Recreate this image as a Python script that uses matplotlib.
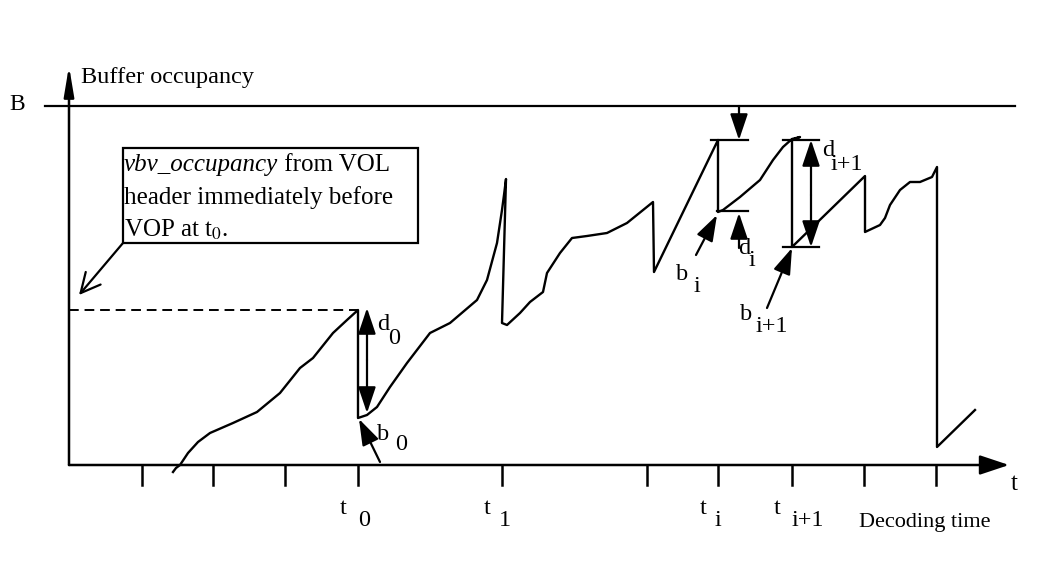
import numpy as np
import matplotlib.pyplot as plt
from matplotlib.patches import FancyArrowPatch, Rectangle

# Coordinates (x right, y down, in pixels)

# Buffer occupancy curve
curve_x = [173, 176, 180, 188, 198, 210, 233, 257, 280, 300, 313, 333, 347, 358,
           358, 367, 377, 390, 407, 430, 450, 477, 487, 497, 502, 504, 506,
           502, 507, 520, 530, 543, 547, 560, 572, 587, 607, 627, 653,
           654, 718, 718, 723, 740, 760, 773, 783, 792, 800, 792, 792,
           865, 865, 880, 885, 890, 900, 910, 920, 932, 937, 937, 975]
curve_y = [472, 468, 465, 453, 442, 433, 423, 412, 393, 368, 358, 333, 320, 310,
           418, 415, 407, 387, 363, 333, 323, 300, 280, 243, 210, 195, 179,
           323, 325, 313, 302, 292, 273, 253, 238, 236, 233, 223, 202,
           272, 140, 212, 210, 197, 180, 160, 147, 139, 137, 140, 247,
           176, 232, 225, 218, 205, 190, 182, 182, 177, 167, 447, 410]

# Decoding time ticks
tick_x = [142, 213, 285, 358, 502, 647, 718, 792, 864, 936]
tick_names = [("t", "0", 358, 21), ("t", "1", 502, 18), ("t", "i", 718, 15), ("t", "i+1", 792, 31)]

AXIS_X = 69
AXIS_Y = 465
B_LEVEL = 106
START_LEVEL = 310

plt.rcParams['font.family'] = ['Liberation Serif', 'DejaVu Serif']
plt.rcParams['mathtext.fontset'] = 'stix'

FS = 17.5

fig = plt.figure(figsize=(10.51, 5.66), dpi=100)
ax = fig.add_axes([0, 0, 1, 1])
ax.set_xlim(0, 1051)
ax.set_ylim(566, 0)
ax.axis('off')

def arrow(x0, y0, x1, y1, style="-|>,head_length=0.8,head_width=0.27", lw=1.6):
    ax.add_patch(FancyArrowPatch((x0, y0), (x1, y1), arrowstyle=style, mutation_scale=20,
                                 color='black', lw=lw, shrinkA=0, shrinkB=0))

def label(x, y, s, fs=FS):
    ax.text(x, y, s, fontsize=fs, ha='center', va='center')

# axes
arrow(AXIS_X, AXIS_Y, AXIS_X, 66, style="-|>,head_length=0.9,head_width=0.15", lw=1.8)
arrow(AXIS_X, AXIS_Y, 1009, AXIS_Y, style="-|>,head_length=0.9,head_width=0.3", lw=1.8)
for x in tick_x:
    ax.plot([x, x], [AXIS_Y, 485], color='black', lw=1.8)

ax.plot([45, 1015], [B_LEVEL, B_LEVEL], color='black', lw=1.6)
ax.text(9, 104, "B", fontsize=17, ha='left', va='center')
ax.text(81, 78, "Buffer occupancy", fontsize=17.5, ha='left', va='center')
ax.text(1011, 484, "t", fontsize=18, ha='left', va='center')
ax.text(859, 522, "Decoding time", fontsize=16, ha='left', va='center')

for t, sub, x, off in tick_names:
    label(x - 15, 509, t)
    label(x - 15 + off, 520, sub)

# dashed start level
ax.plot([AXIS_X, 358], [START_LEVEL, START_LEVEL], color='black', lw=1.4, dashes=(5, 3))

# the curve
ax.plot(curve_x, curve_y, color='black', lw=1.7, solid_joinstyle='round')

# annotation box
ax.add_patch(Rectangle((123, 148), 295, 95, fill=False, ec='black', lw=1.6))
it = ax.text(124, 165, "vbv_occupancy", fontsize=18, style='italic', ha='left', va='center')
ax.annotate(" from VOL", xy=(1, 0.5), xycoords=it, fontsize=18, ha='left', va='center')
ax.text(124, 198, "header immediately before", fontsize=18, ha='left', va='center')
ax.text(124, 230, "VOP at t$_{0}$.", fontsize=18, ha='left', va='center')
arrow(123, 243, 79, 295, style="->,head_length=0.7,head_width=0.35", lw=1.6)

# d0 and b0
arrow(367, 360, 367, 308)
arrow(367, 360, 367, 413)
label(383, 325, "d")
label(394, 338, "0")
arrow(380, 462, 359, 419)
label(383, 434, "b")
label(401, 444, "0")

# di and bi
ax.plot([711, 748], [140, 140], color='black', lw=1.6)
ax.plot([717, 748], [211, 211], color='black', lw=1.6)
arrow(739, B_LEVEL, 739, 140)
arrow(739, 248, 739, 213)
label(744, 248, "d")
label(752, 261, "i")
arrow(696, 255, 717, 215)
label(682, 275, "b")
label(697, 286, "i")

# di+1 and bi+1
ax.plot([783, 819], [140, 140], color='black', lw=1.6)
ax.plot([783, 819], [247, 247], color='black', lw=1.6)
arrow(811, 195, 811, 140)
arrow(811, 195, 811, 247)
label(828, 150, "d")
label(847, 165, "i+1")
arrow(767, 308, 792, 248)
label(746, 315, "b")
label(772, 327, "i+1")

fig.savefig("out.png", dpi=100)
